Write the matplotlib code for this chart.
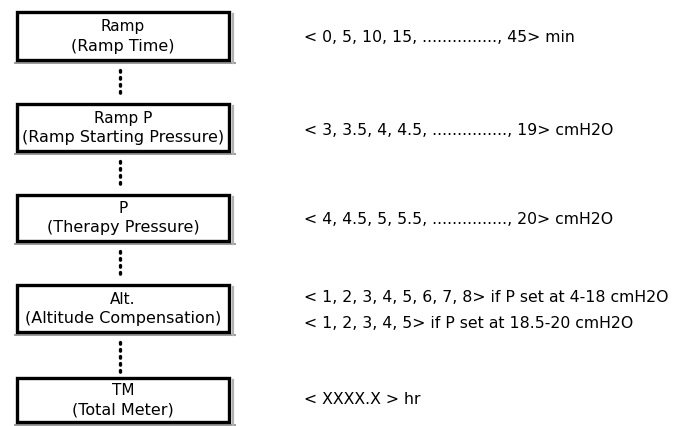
import matplotlib
matplotlib.use('Agg')
import matplotlib.pyplot as plt
from matplotlib.patches import Rectangle

# menu items (short name, long name) and their setting ranges
short_names = ['Ramp', 'Ramp P', 'P', 'Alt.', 'TM']
long_names = ['(Ramp Time)', '(Ramp Starting Pressure)', '(Therapy Pressure)',
              '(Altitude Compensation)', '(Total Meter)']
value_lines = [
    ['< 0, 5, 10, 15, ..............., 45> min'],
    ['< 3, 3.5, 4, 4.5, ..............., 19> cmH2O'],
    ['< 4, 4.5, 5, 5.5, ..............., 20> cmH2O'],
    ['< 1, 2, 3, 4, 5, 6, 7, 8> if P set at 4-18 cmH2O',
     '< 1, 2, 3, 4, 5> if P set at 18.5-20 cmH2O'],
    ['< XXXX.X > hr'],
]

# layout in pixels (top, bottom of each box, y of the value text lines)
box_top = [13, 105, 196, 286, 379]
box_bot = [61, 152, 242, 333, 423]
text_y = [[37], [131], [220], [298, 324], [400]]
box_left, box_right = 17, 229
line_x = 120
text_x = 304

fig = plt.figure(figsize=(6.79, 4.27), dpi=100)
ax = fig.add_axes([0, 0, 1, 1])
ax.set_xlim(0, 679)
ax.set_ylim(427, 0)
ax.axis('off')

for i in range(len(short_names)):
    t, b = box_top[i], box_bot[i]
    # faint scanned shadow under and right of the box
    ax.plot([box_left - 2, box_right + 6], [b + 3, b + 3], color='#9a9a9a', lw=1.4, zorder=1)
    ax.plot([box_right + 4, box_right + 4], [t + 2, b + 3], color='#b0b0b0', lw=1.6, zorder=1)
    ax.add_patch(Rectangle((box_left, t), box_right - box_left, b - t,
                           fill=True, facecolor='white', edgecolor='black', lw=2.4, zorder=2))
    yc = (t + b) / 2
    ax.text((box_left + box_right) / 2, yc - 10, short_names[i], ha='center', va='center',
            fontsize=11, family='DejaVu Sans', zorder=3)
    ax.text((box_left + box_right) / 2, yc + 9, long_names[i], ha='center', va='center',
            fontsize=11.5, family='DejaVu Sans', zorder=3)

    # dotted connector to the next box
    if i < len(short_names) - 1:
        ax.plot([line_x, line_x], [b + 10, box_top[i + 1] - 6], color='black', lw=2.4,
                linestyle=(0, (0.5, 1.6)), dash_capstyle='round', zorder=2)

    # setting values on the right
    for y, s in zip(text_y[i], value_lines[i]):
        ax.text(text_x, y, s, ha='left', va='center', fontsize=11.3,
                family='DejaVu Sans')

fig.savefig('out.png', dpi=100)
